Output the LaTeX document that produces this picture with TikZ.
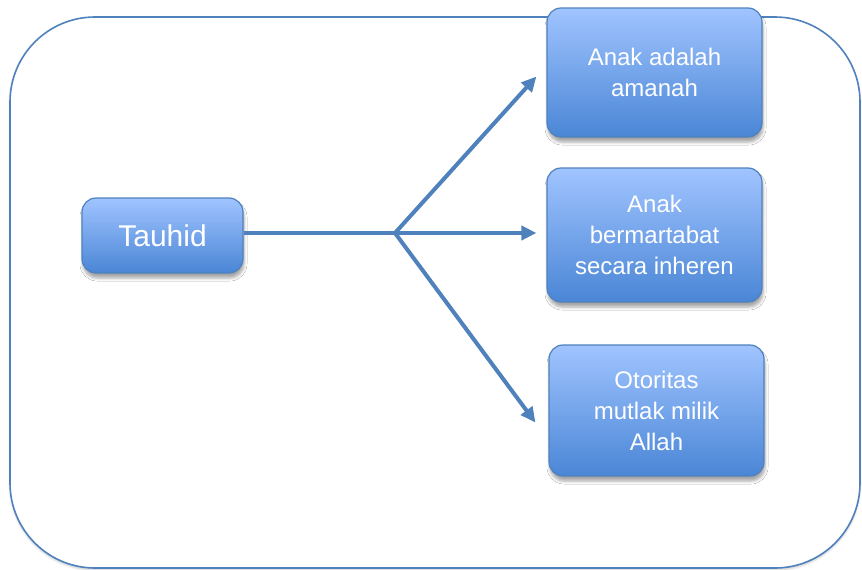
\documentclass[tikz,border=0pt]{standalone}
\usepackage{fontspec}
\setmainfont{Liberation Sans}
\usetikzlibrary{arrows.meta,shadows.blur,positioning}
\definecolor{boxtop}{HTML}{A0C4FF}
\definecolor{boxbot}{HTML}{4A86D6}
\definecolor{edgeblue}{HTML}{4F81BD}
\tikzset{
    topic/.style={draw=edgeblue, line width=1.2pt, rounded corners=14pt,
        top color=boxtop, bottom color=boxbot, text=white, align=center,
        inner sep=0pt, font=\fontsize{24}{31}\selectfont,
        blur shadow={shadow xshift=1pt, shadow yshift=-5pt, shadow blur radius=3pt, shadow opacity=35}},
    branch/.style={-{Triangle[length=15pt, width=14pt]}, line width=4pt, edgeblue},
    frame/.style={draw=edgeblue, fill=white, line width=1.6pt, rounded corners=85pt}
}

\begin{document}
\begin{tikzpicture}[x=1pt, y=-1pt]
    \useasboundingbox (0,0) rectangle (862,570);
    \draw[frame, blur shadow={shadow xshift=0pt, shadow yshift=-2pt, shadow blur radius=2pt, shadow opacity=20}] (10,17) rectangle (860,568);

    \node[topic, minimum width=161pt, minimum height=75pt, font=\fontsize{30}{34}\selectfont] (tauhid) at (162.5,235.5) {Tauhid};
    \node[topic, minimum width=215pt, minimum height=129pt] (amanah) at (654.5,72.5) {Anak adalah\\amanah};
    \node[topic, minimum width=215pt, minimum height=134pt] (martabat) at (654.5,235) {Anak\\bermartabat\\secara inheren};
    \node[topic, minimum width=215pt, minimum height=131pt] (otoritas) at (656.5,410.5) {Otoritas\\mutlak milik\\Allah};

    \coordinate (fork) at (395,233);

    \draw[line width=4pt, edgeblue] (tauhid.east |- fork) -- (fork);
    \draw[branch] (fork) -- ([xshift=-10pt, yshift=-4pt]amanah.west);
    \draw[branch] (fork) -- ([xshift=-10pt]martabat.west |- fork);
    \draw[branch] (fork) -- ([xshift=-13pt, yshift=-12pt]otoritas.west);
\end{tikzpicture}
\end{document}
